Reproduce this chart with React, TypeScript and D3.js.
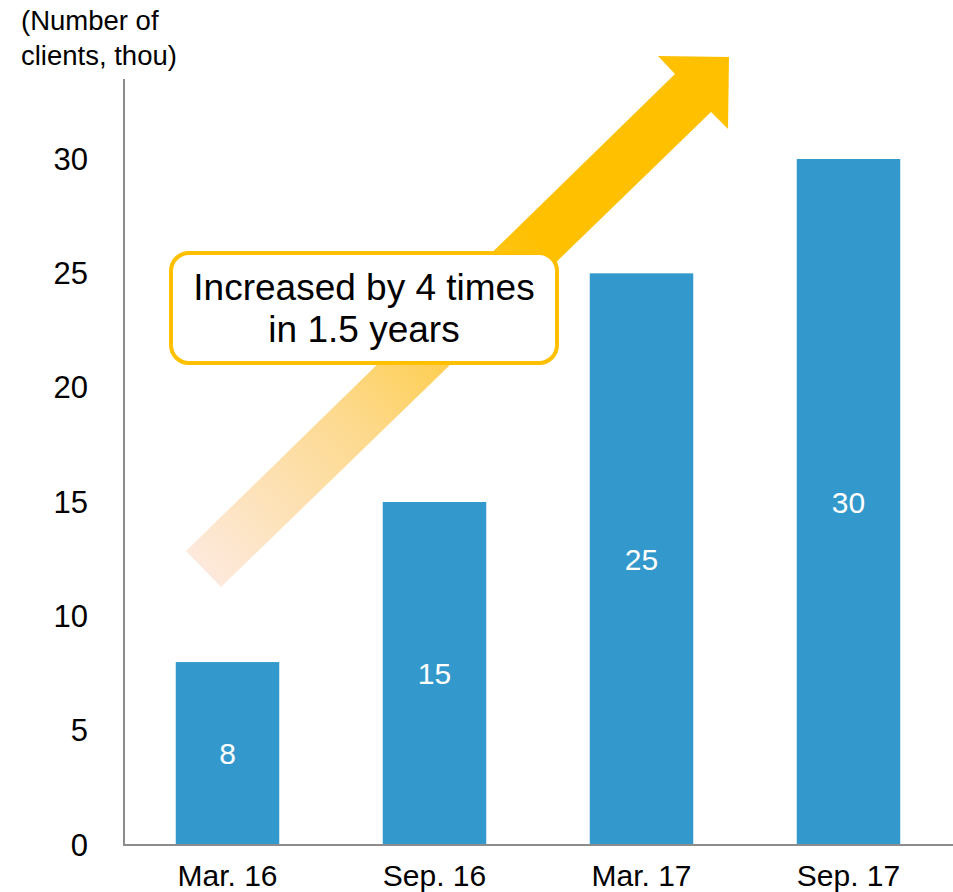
import React from "react";
import * as d3 from "d3";

const categories = ["Mar. 16", "Sep. 16", "Mar. 17", "Sep. 17"];
const values = [8, 15, 25, 30];
const yTicks = [0, 5, 10, 15, 20, 25, 30];
const titleLines = ["(Number of", "clients, thou)"];
const calloutLines = ["Increased by 4 times", "in 1.5 years"];

const W = 953;
const H = 892;
const FONT = "'Liberation Sans', Arial, Helvetica, sans-serif";

export default function App() {
  const x = d3
    .scaleBand<string>()
    .domain(categories)
    .range([124, 952])
    .paddingInner(0.5)
    .paddingOuter(0.25);
  const y = d3.scaleLinear().domain([0, 30]).range([845, 159]);

  // arrow (decoration) polygon
  const arrowPts: [number, number][] = [
    [186, 551],
    [675, 74],
    [658, 56],
    [729, 57],
    [728, 129],
    [711, 112],
    [221, 587],
  ];
  const arrowPath = d3.line()(arrowPts) + "Z";

  return (
    <svg
      width={W}
      height={H}
      style={{ position: "absolute", left: 0, top: 0, background: "#fff" }}
      fontFamily={FONT}
    >
      <defs>
        <linearGradient id="arrowGrad" gradientUnits="userSpaceOnUse" x1={203} y1={569} x2={540} y2={240}>
          <stop offset="0" stopColor="#fde9dc" />
          <stop offset="0.45" stopColor="#fdd98c" />
          <stop offset="1" stopColor="#ffc000" />
        </linearGradient>
      </defs>

      {/* title */}
      {titleLines.map((t, i) => (
        <text key={t} x={21} y={30 + i * 35} fontSize={27.5} fill="#000">
          {t}
        </text>
      ))}

      {/* y tick labels */}
      {yTicks.map((t) => (
        <text
          key={t}
          x={88}
          y={y(t)}
          textAnchor="end"
          dominantBaseline="central"
          fontSize={31}
          fill="#000"
        >
          {t}
        </text>
      ))}

      {/* arrow */}
      <path d={arrowPath} fill="url(#arrowGrad)" />

      {/* bars */}
      {categories.map((c, i) => (
        <rect
          key={c}
          x={x(c)!}
          y={y(values[i])}
          width={x.bandwidth()}
          height={y(0) - y(values[i])}
          fill="#3399cc"
        />
      ))}

      {/* bar value labels */}
      {categories.map((c, i) => (
        <text
          key={c + "v"}
          x={x(c)! + x.bandwidth() / 2}
          y={(y(values[i]) + y(0)) / 2}
          textAnchor="middle"
          dominantBaseline="central"
          fontSize={30}
          fill="#fff"
        >
          {values[i]}
        </text>
      ))}

      {/* axes */}
      <line x1={124} x2={124} y1={79} y2={845} stroke="#8c8c8c" strokeWidth={2} />
      <line x1={123} x2={953} y1={845} y2={845} stroke="#8c8c8c" strokeWidth={2} />

      {/* category labels */}
      {categories.map((c) => (
        <text
          key={c + "l"}
          x={x(c)! + x.bandwidth() / 2}
          y={886}
          textAnchor="middle"
          fontSize={30}
          fill="#000"
        >
          {c}
        </text>
      ))}

      {/* callout */}
      <rect
        x={171}
        y={253}
        width={386}
        height={110}
        rx={18}
        ry={18}
        fill="#fff"
        stroke="#ffc000"
        strokeWidth={4}
      />
      {calloutLines.map((t, i) => (
        <text key={t} x={364} y={300 + i * 42} textAnchor="middle" fontSize={37} fill="#000">
          {t}
        </text>
      ))}
    </svg>
  );
}
